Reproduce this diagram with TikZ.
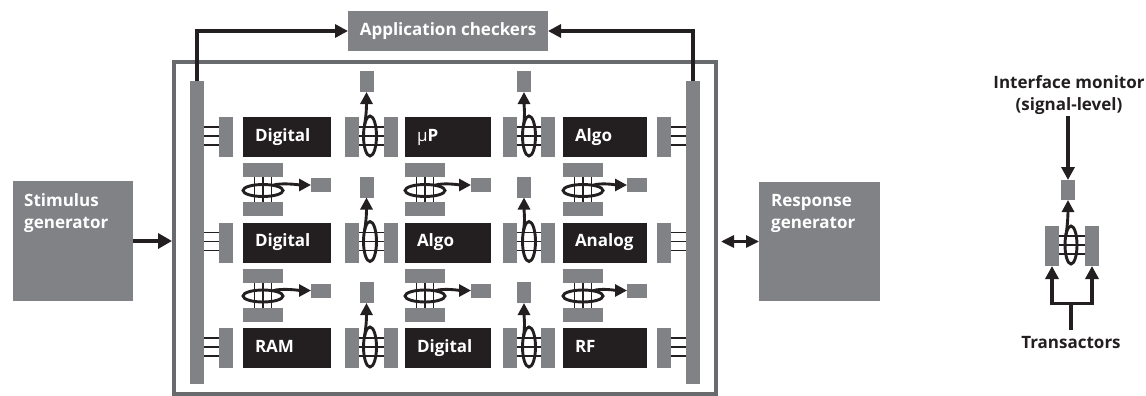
\documentclass[tikz,border=0pt]{standalone}
\usepackage{fontspec}
\setmainfont{Open Sans}
\usetikzlibrary{arrows.meta,calc}
\definecolor{boxgray}{RGB}{128,130,133}
\definecolor{framegray}{RGB}{105,106,110}
\definecolor{ink}{RGB}{35,31,32}
\newcommand\lblfont{\fontsize{17}{22}\selectfont\bfseries}
\begin{document}
\begin{tikzpicture}[x=1pt,y=-1pt,
  gbox/.style={fill=boxgray,draw=none,inner sep=0pt,outer sep=0pt,anchor=north west},
  blockbox/.style={fill=ink,text=white,inner xsep=12pt,inner ysep=0pt,outer sep=0pt,
    anchor=north west,minimum height=40pt,text height=12pt,text depth=4pt,align=left,font=\lblfont},
  lbl/.style={inner sep=0pt,font=\lblfont,text=ink},
  wire/.style={draw=ink,line width=1.5pt},
  loopring/.style={draw=ink,line width=2.9pt},
  tailarrow/.style={draw=ink,line width=2.9pt,-{Triangle[length=12pt,width=12pt]}},
  conn/.style={draw=ink,line width=3.5pt},
  head/.style={-{Triangle[length=13pt,width=13pt]}}]
\useasboundingbox (0,0) rectangle (1146,396);

% ---- top-level environment ----
\node[draw=framegray,line width=4pt,inner sep=0pt,outer sep=2pt,minimum width=542pt,
  minimum height=332pt,anchor=north west] (frame) at (172,60) {};
\node[gbox,minimum width=200pt,minimum height=40pt,text=white,font=\lblfont,anchor=north west]
  (app) at (348,11) {Application checkers};
\node[gbox,minimum width=14pt,minimum height=303pt] (lbus) at (190,81) {};
\node[gbox,minimum width=14pt,minimum height=303pt] (rbus) at (686,81) {};

\draw[conn,head] (lbus.north) |- (app.west);
\draw[conn,head] (rbus.north) |- (app.east);

\node[gbox,minimum width=120pt,minimum height=120pt] (stim) at (13,181) {};
\node[lbl,text=white,anchor=north west,align=left] at ($(stim.north west)+(11,12)$) {Stimulus\\generator};
\draw[conn,line width=4.5pt,-{Triangle[length=14pt,width=15pt]}] (stim.east) -- (stim.east -| frame.west);

\node[gbox,minimum width=121pt,minimum height=119pt] (resp) at (759,182) {};
\node[lbl,text=white,anchor=north west,align=left] at ($(resp.north west)+(12,12)$) {Response\\generator};
\draw[conn,line width=3pt,{Triangle[length=13pt,width=12pt]}-{Triangle[length=13pt,width=12pt]},shorten <=3pt]
  (resp.west -| frame.east) -- (resp.west);

% ---- functional blocks ----
\node[blockbox,text width=64pt] (b11) at (243,117) {Digital};
\node[blockbox,text width=62pt] (b21) at (405,117) {{\mdseries µ}P};
\node[blockbox,text width=60pt] (b31) at (563,117) {Algo};
\node[blockbox,text width=64pt] (b12) at (243,222.5) {Digital};
\node[blockbox,text width=62pt] (b22) at (405,222.5) {Algo};
\node[blockbox,text width=60pt] (b32) at (563,222.5) {Analog};
\node[blockbox,text width=64pt] (b13) at (243,328) {RAM};
\node[blockbox,text width=62pt] (b23) at (405,328) {Digital};
\node[blockbox,text width=60pt] (b33) at (563,328) {RF};

% ---- bus attachments on both sides ----
\foreach \r/\y in {1/117,2/222.5,3/328} {
  \node[gbox,minimum width=14pt,minimum height=40pt] (lc\r) at (219,\y) {};
  \node[gbox,minimum width=14pt,minimum height=40pt] (rc\r) at (657,\y) {};
  \foreach \d in {10,19,28} {
    \coordinate (p) at ($(lc\r.north west)+(0,\d)$);
    \draw[wire] (p) -- (p -| lbus.east);
    \coordinate (q) at ($(rc\r.north east)+(0,\d)$);
    \draw[wire] (q) -- (q -| rbus.west);
  }
}

% ---- monitors on links between neighbouring columns ----
\foreach \u/\lx/\rx/\ex/\sx in {a/345/384/370/359.5, b/503/541/529/517} {
  \foreach \r/\y in {1/117,2/222.5,3/328} {
    \node[gbox,minimum width=14pt,minimum height=40pt] (vl\u\r) at (\lx,\y) {};
    \node[gbox,minimum width=14pt,minimum height=40pt] (vr\u\r) at (\rx,\y) {};
    \node[gbox,minimum width=14pt,minimum height=21pt] (vm\u\r) at (\sx,{\y-46}) {};
    \foreach \d in {10,19,28} {
      \coordinate (p) at ($(vl\u\r.north east)+(0,\d)$);
      \draw[wire] (p) -- (p -| vr\u\r.west);
    }
    \coordinate (e) at (\ex,{\y+19});
    \draw[loopring] (e) ellipse [x radius=6.5, y radius=20];
    \draw[tailarrow] ($(e)+(-5.6,-10)$) .. controls +(2,-11) and +(0,14) .. (vm\u\r.south);
  }
}

% ---- monitors on links between neighbouring rows ----
\foreach \c/\lx/\w in {1/243/88, 2/405/86, 3/563/84} {
  \foreach \r/\y in {1/117, 2/222.5} {
    \node[gbox,minimum width=40pt,minimum height=14pt] (ht\c\r) at (\lx,{\y+46}) {};
    \node[gbox,minimum width=40pt,minimum height=14pt] (hb\c\r) at (\lx,{\y+85}) {};
    \node[gbox,minimum width=20pt,minimum height=14pt] (hm\c\r) at ({\lx+\w-20},{\y+61}) {};
    \foreach \d in {-8.5,0,8.5} {
      \coordinate (p) at ($(ht\c\r.south)+(\d,0)$);
      \draw[wire] (p) -- (p |- hb\c\r.north);
    }
    \coordinate (e) at ({\lx+20},{\y+73.5});
    \draw[loopring] (e) ellipse [x radius=20, y radius=6];
    \draw[tailarrow] ($(e)+(10,-5.2)$) .. controls +(8,-3) and +(-10,0) .. (hm\c\r.west);
  }
}

% ---- legend ----
\node[lbl,align=center,anchor=north] (mon) at (1069,75) {Interface monitor\\(signal-level)};
\node[gbox,minimum width=14pt,minimum height=20pt] (lsm) at (1061,180) {};
\node[gbox,minimum width=14pt,minimum height=40pt] (ltl) at (1045,226) {};
\node[gbox,minimum width=14pt,minimum height=40pt] (ltr) at (1085,226) {};
\foreach \d in {10,19,28} {
  \coordinate (p) at ($(ltl.north east)+(0,\d)$);
  \draw[wire] (p) -- (p -| ltr.west);
}
\coordinate (le) at (1071,245);
\draw[loopring] (le) ellipse [x radius=6, y radius=19];
\draw[tailarrow] ($(le)+(-5.2,-9.5)$) .. controls +(2,-10) and +(0,12) .. (lsm.south);
\draw[conn,head,shorten <=2pt] (lsm.north |- mon.south) -- (lsm.north);
\node[lbl,anchor=base] (trans) at (1071,348) {Transactors};
\draw[conn] ([yshift=6pt]trans.north) -- ++(0,-26) coordinate (fork);
\draw[conn,head] (fork) -| (ltl.south);
\draw[conn,head] (fork) -| (ltr.south);
\end{tikzpicture}
\end{document}
